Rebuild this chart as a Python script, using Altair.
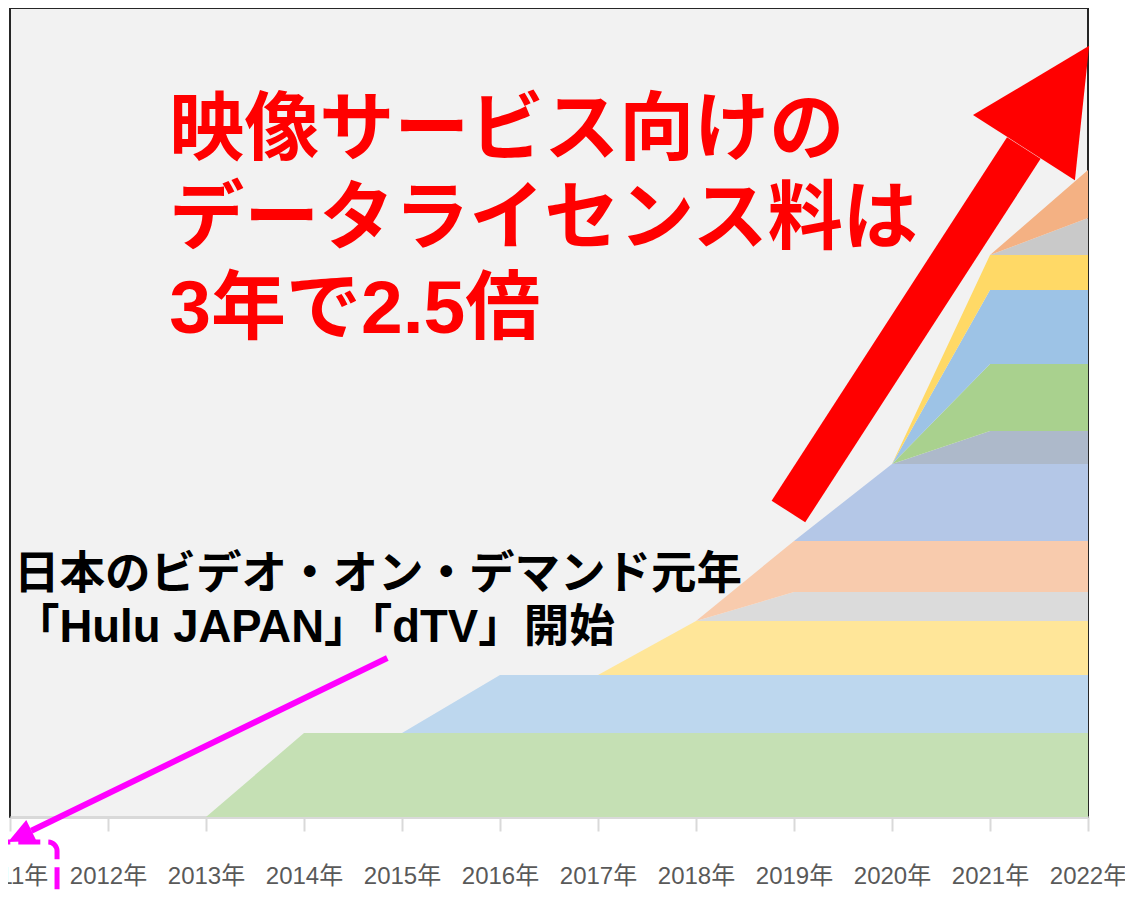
import altair as alt
import pandas as pd

# ---- data ----
years = [2011, 2012, 2013, 2014, 2015, 2016, 2017, 2018, 2019, 2020, 2021, 2022]
layer_names = ["L01", "L02", "L03", "L04", "L05", "L06", "L07", "L08", "L09", "L10", "L11", "L12"]
layer_colors = ["#c5e0b4", "#bdd7ee", "#ffe699", "#dbdbdb", "#f8cbad", "#b4c7e7",
                "#adb9ca", "#a9d18e", "#9dc3e6", "#ffd966", "#c9c9c9", "#f4b183"]
L01 = [0, 0, 0, 84, 84, 84, 84, 84, 84, 84, 84, 84]
L02 = [0, 0, 0, 0, 0, 58, 58, 58, 58, 58, 58, 58]
L03 = [0, 0, 0, 0, 0, 0, 0, 54, 54, 54, 54, 54]
L04 = [0, 0, 0, 0, 0, 0, 0, 0, 29, 29, 29, 29]
L05 = [0, 0, 0, 0, 0, 0, 0, 0, 51, 51, 51, 51]
L06 = [0, 0, 0, 0, 0, 0, 0, 0, 0, 77, 77, 77]
L07 = [0, 0, 0, 0, 0, 0, 0, 0, 0, 0, 33, 33]
L08 = [0, 0, 0, 0, 0, 0, 0, 0, 0, 0, 67, 67]
L09 = [0, 0, 0, 0, 0, 0, 0, 0, 0, 0, 74, 74]
L10 = [0, 0, 0, 0, 0, 0, 0, 0, 0, 0, 35, 35]
L11 = [0, 0, 0, 0, 0, 0, 0, 0, 0, 0, 0, 37]
L12 = [0, 0, 0, 0, 0, 0, 0, 0, 0, 0, 0, 48]
series = [L01, L02, L03, L04, L05, L06, L07, L08, L09, L10, L11, L12]

y_max = 809

red_lines = ["映像サービス向けの", "データライセンス料は", "3年で2.5倍"]
black_lines = ["日本のビデオ・オン・デマンド元年", "「Hulu JAPAN」「dTV」開始"]

rows = []
for i, (name, vals) in enumerate(zip(layer_names, series)):
    for yr, v in zip(years, vals):
        rows.append({"year": yr, "value": v, "layer": name, "idx": i})
df = pd.DataFrame(rows)

xscale = alt.Scale(domain=[2011, 2022], nice=False, zero=False)
yscale = alt.Scale(domain=[0, y_max], nice=False, zero=True)
x_axis = alt.Axis(values=years, labelExpr="datum.value + '年'", title=None, grid=False,
                  domainColor="#d9d9d9", domainWidth=3,
                  tickColor="#d9d9d9", tickWidth=2, tickSize=14,
                  labelColor="#595959", labelFontSize=24,
                  labelFont="Liberation Sans, Arial, Noto Sans CJK JP",
                  labelPadding=33, labelBaseline="top", labelFlush=False,
                  labelOverlap=False, labelBound=False)
cjk_font = "Liberation Sans, Arial, Noto Sans CJK JP"


def xenc(field):
    return alt.X(field, scale=xscale, axis=x_axis)


def yenc(field):
    return alt.Y(field, scale=yscale, axis=None)


areas = alt.Chart(df).mark_area(interpolate="linear", opacity=1).encode(
    x=alt.X("year:Q", scale=xscale, axis=x_axis),
    y=alt.Y("value:Q", stack="zero", scale=yscale, axis=None),
    color=alt.Color("layer:N", scale=alt.Scale(domain=layer_names, range=layer_colors), legend=None),
    order=alt.Order("idx:Q", sort="ascending"),
)

# ---- annotations (anchored in data units) ----
red_shaft_df = pd.DataFrame({"year": [2018.943], "value": [305.5], "year2": [2021.345], "value2": [669.0]})
red_shaft = alt.Chart(red_shaft_df).mark_rule(color="#ff0000", strokeWidth=40, strokeCap="butt").encode(
    x=xenc("year:Q"), y=yenc("value:Q"), x2="year2:Q", y2="value2:Q")

red_head_df = pd.DataFrame({"year": [2021.679], "value": [720.3]})
red_head = alt.Chart(red_head_df).mark_point(
    shape="M0,-1L1,1L-1,1Z", filled=True, size=121 * 121, angle=32.6,
    color="#ff0000", opacity=1, strokeWidth=0).encode(x=xenc("year:Q"), y=yenc("value:Q"))

red_text_df = pd.DataFrame({"year": [2012.625], "value": [686.5]})
red_text = alt.Chart(red_text_df).mark_text(
    text=red_lines, align="left", baseline="middle", font=cjk_font,
    fontSize=75, fontWeight="bold", lineHeight=89.5, color="#ff0000").encode(
    x=xenc("year:Q"), y=yenc("value:Q"))

black_text_df = pd.DataFrame({"year": [2011.04], "value": [241.6]})
black_text = alt.Chart(black_text_df).mark_text(
    text=black_lines, align="left", baseline="middle", font=cjk_font,
    fontSize=45.5, fontWeight="bold", lineHeight=53, color="#000000").encode(
    x=xenc("year:Q"), y=yenc("value:Q"))

mag_shaft_df = pd.DataFrame({"year": [2014.85], "value": [159], "year2": [2011.218], "value2": [-13.7]})
mag_shaft = alt.Chart(mag_shaft_df).mark_rule(color="#ff00ff", strokeWidth=6, strokeCap="butt").encode(
    x=xenc("year:Q"), y=yenc("value:Q"), x2="year2:Q", y2="value2:Q")

mag_head_df = pd.DataFrame({"year": [2011.099], "value": [-19.3]})
mag_head = alt.Chart(mag_head_df).mark_point(
    shape="M0,-1L0.9,1L-0.9,1Z", filled=True, size=26 * 26, angle=244,
    color="#ff00ff", opacity=1, strokeWidth=0).encode(x=xenc("year:Q"), y=yenc("value:Q"))

mag_box_df = pd.DataFrame({"year": [2010.85], "year2": [2011.48], "value": [-25], "value2": [-83]})
mag_box = alt.Chart(mag_box_df).mark_rect(
    fill=None, fillOpacity=0, stroke="#ff00ff", strokeWidth=5, strokeDash=[22, 8],
    strokeDashOffset=16, cornerRadius=9).encode(
    x=xenc("year:Q"), y=yenc("value:Q"), x2="year2:Q", y2="value2:Q")

chart = alt.layer(areas, black_text, red_text, mag_shaft, mag_head, mag_box, red_shaft, red_head).properties(
    width=1078, height=809,
    autosize=alt.AutoSizeParams(type="none"),
    padding={"left": 2, "top": 0, "right": 37, "bottom": 78},
).configure_view(fill="#f2f2f2", stroke="#262626", strokeWidth=2)

chart.save("out.html", embed_options={"renderer": "svg", "actions": False})
